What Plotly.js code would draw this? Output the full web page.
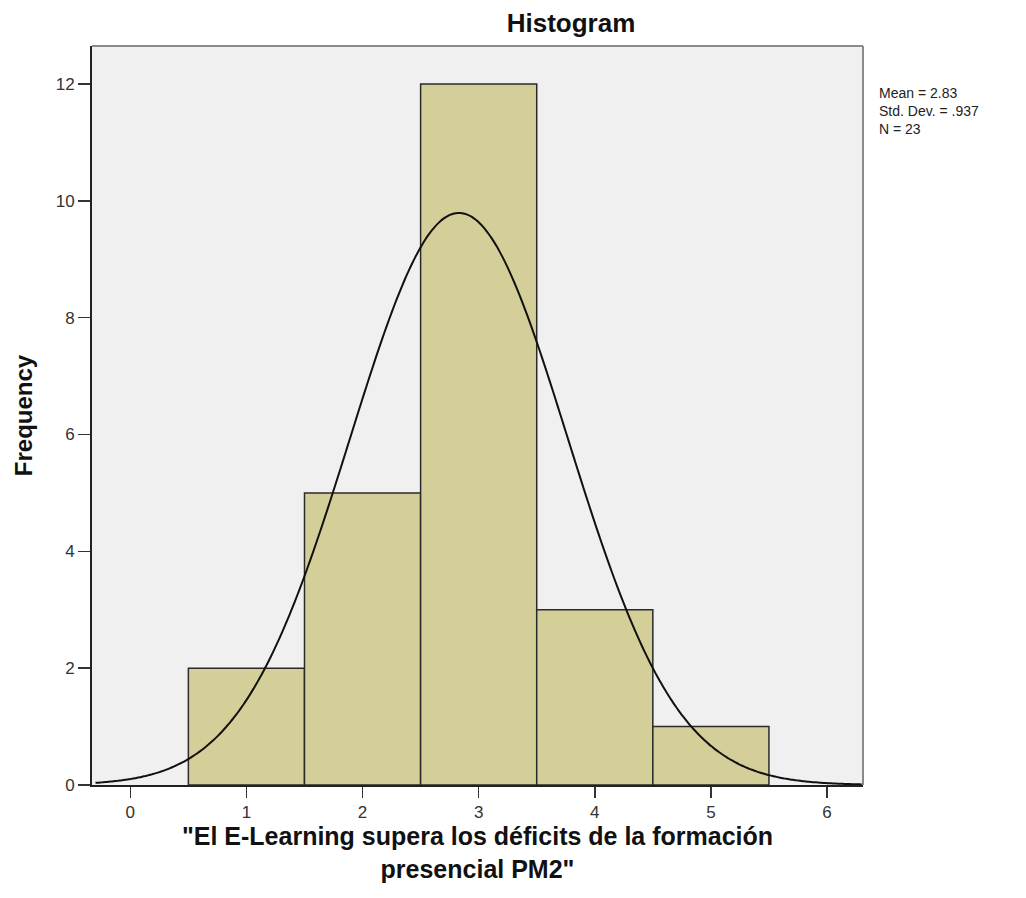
<!DOCTYPE html>
<html>
<head>
<meta charset="utf-8">
<script src="https://cdn.plot.ly/plotly-3.0.1.min.js"></script>
<style>html,body{margin:0;padding:0;background:#fff;}#chart{width:1026px;height:898px;}</style>
</head>
<body>
<div id="chart"></div>
<script>
// Data
const binCenters = [1, 2, 3, 4, 5];
const frequencies = [2, 5, 12, 3, 1];
const meanValue = 2.83;
const stdDev = 0.937;
const nCount = 23;
const xTicks = [0, 1, 2, 3, 4, 5, 6];
const yTicks = [0, 2, 4, 6, 8, 10, 12];
const statLines = ['Mean = 2.83', 'Std. Dev. = .937', 'N = 23'];

// Fitted normal curve (as drawn by SPSS) from the reported statistics
const curveX = [];
const curveY = [];
for (let i = 0; i <= 300; i++) {
  const x = -0.3 + i * (6.6 / 300);
  curveX.push(x);
  const z = (x - meanValue) / stdDev;
  curveY.push(nCount * 1 / (stdDev * Math.sqrt(2 * Math.PI)) * Math.exp(-0.5 * z * z));
}

const traces = [
  {
    type: 'bar',
    x: binCenters,
    y: frequencies,
    width: 1,
    marker: {color: '#D4CF99', line: {color: '#2a2a2a', width: 1.5}},
    hoverinfo: 'x+y',
    showlegend: false
  },
  {
    type: 'scatter',
    mode: 'lines',
    x: curveX,
    y: curveY,
    line: {color: '#111', width: 2, shape: 'spline'},
    hoverinfo: 'skip',
    showlegend: false
  }
];

const layout = {
  width: 1026,
  height: 898,
  margin: {l: 92, r: 163, t: 46, b: 113},
  paper_bgcolor: '#ffffff',
  plot_bgcolor: '#F0F0F0',
  font: {family: 'Liberation Sans, Arial, sans-serif', color: '#222'},
  title: {
    text: '<b>Histogram</b>',
    font: {size: 26, color: '#111'},
    x: 0.5565, xanchor: 'center', xref: 'container',
    y: 0.975, yanchor: 'middle', yref: 'container'
  },
  bargap: 0,
  xaxis: {
    range: [-0.33, 6.31],
    tickvals: xTicks,
    ticktext: xTicks.map(String),
    ticks: 'outside',
    ticklen: 11,
    tickwidth: 1.5,
    tickcolor: '#333',
    tickfont: {size: 17, color: '#333'},
    showgrid: false,
    zeroline: false,
    showline: true,
    linecolor: '#222',
    linewidth: 2,
    title: {
      text: '<b>"El E-Learning supera los déficits de la formación<br>presencial PM2"</b>',
      font: {size: 25, color: '#111'},
      standoff: 2
    }
  },
  yaxis: {
    range: [0, 12.65],
    tickvals: yTicks,
    ticktext: yTicks.map(String),
    ticks: 'outside',
    ticklen: 12,
    tickwidth: 1.5,
    tickcolor: '#333',
    tickfont: {size: 17, color: '#333'},
    showgrid: false,
    zeroline: false,
    showline: true,
    linecolor: '#222',
    linewidth: 2,
    title: {
      text: '<b>Frequency</b>',
      font: {size: 24, color: '#111'},
      standoff: 16
    }
  },
  shapes: [
    {type: 'line', xref: 'paper', yref: 'paper', x0: 0, x1: 1, y0: 1, y1: 1, line: {color: '#8a8a8a', width: 2}},
    {type: 'line', xref: 'paper', yref: 'paper', x0: 1, x1: 1, y0: 0, y1: 1, line: {color: '#8a8a8a', width: 2}}
  ],
  annotations: [{
    xref: 'paper', yref: 'paper',
    x: 1.018, y: 0.95, xanchor: 'left', yanchor: 'top',
    align: 'left', showarrow: false,
    text: statLines.join('<br>'),
    font: {size: 14, color: '#222'}
  }]
};

Plotly.newPlot('chart', traces, layout, {displayModeBar: false, staticPlot: true});
</script>
</body>
</html>
